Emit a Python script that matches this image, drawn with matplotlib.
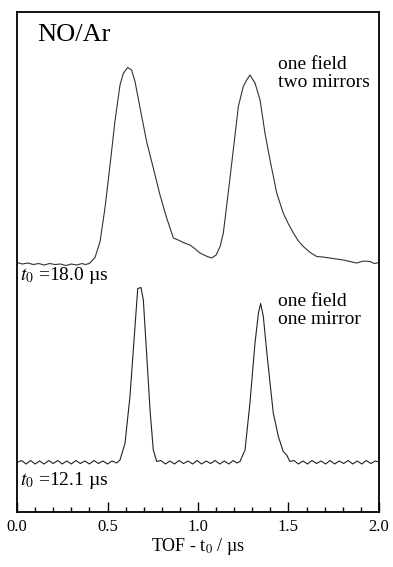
import numpy as np
import matplotlib
matplotlib.use("Agg")
import matplotlib.pyplot as plt
from matplotlib.ticker import MultipleLocator

plt.rcParams['font.family'] = ['Liberation Serif', 'DejaVu Serif']
plt.rcParams['mathtext.fontset'] = 'stix'

# upper trace: one field, two mirrors (t0 = 18.0 us)
top_x = [0.000, 0.030, 0.060, 0.090, 0.120, 0.150, 0.180, 0.210, 0.240, 0.270,
         0.300, 0.330, 0.360, 0.376, 0.400, 0.431, 0.459, 0.486, 0.514, 0.541,
         0.569, 0.587, 0.611, 0.633, 0.652, 0.680, 0.716, 0.753, 0.790, 0.827,
         0.864, 0.891, 0.925, 0.956, 0.985, 1.011, 1.045, 1.076, 1.100, 1.122,
         1.140, 1.167, 1.195, 1.223, 1.250, 1.269, 1.287, 1.315, 1.343, 1.370,
         1.398, 1.435, 1.471, 1.500, 1.527, 1.555, 1.582, 1.620, 1.656, 1.690,
         1.729, 1.765, 1.803, 1.840, 1.877, 1.915, 1.950, 1.975, 2.000]
top_y = [4.99, 4.96, 4.98, 4.95, 4.97, 4.94, 4.97, 4.95, 4.96, 4.93,
         4.96, 4.94, 4.97, 4.95, 4.97, 5.09, 5.41, 6.08, 6.94, 7.81,
         8.54, 8.77, 8.89, 8.84, 8.61, 8.08, 7.41, 6.88, 6.34, 5.88,
         5.48, 5.44, 5.38, 5.34, 5.26, 5.18, 5.12, 5.08, 5.14, 5.31,
         5.58, 6.38, 7.24, 8.11, 8.51, 8.64, 8.74, 8.58, 8.24, 7.58,
         7.04, 6.38, 5.98, 5.76, 5.58, 5.42, 5.31, 5.19, 5.11, 5.10,
         5.08, 5.06, 5.04, 5.01, 4.98, 5.02, 5.01, 4.97, 4.99]

# lower trace: one field, one mirror (t0 = 12.1 us)
bot_x = [0.000, 0.025, 0.050, 0.075, 0.100, 0.125, 0.150, 0.175, 0.200, 0.225,
         0.250, 0.275, 0.300, 0.325, 0.350, 0.375, 0.400, 0.425, 0.450, 0.475,
         0.500, 0.525, 0.550, 0.569, 0.597, 0.624, 0.648, 0.667, 0.685, 0.698,
         0.716, 0.735, 0.753, 0.772, 0.795, 0.820, 0.845, 0.870, 0.895, 0.920,
         0.945, 0.970, 0.995, 1.020, 1.045, 1.070, 1.095, 1.120, 1.145, 1.170,
         1.195, 1.215, 1.232, 1.260, 1.287, 1.315, 1.334, 1.346, 1.361, 1.379,
         1.398, 1.416, 1.444, 1.471, 1.490, 1.508, 1.530, 1.555, 1.580, 1.605,
         1.630, 1.655, 1.680, 1.705, 1.730, 1.755, 1.780, 1.805, 1.830, 1.855,
         1.880, 1.905, 1.930, 1.955, 1.980, 2.000]
bot_y = [0.99, 1.03, 0.96, 1.03, 0.96, 1.02, 0.96, 1.03, 0.97, 1.03,
         0.96, 1.02, 0.96, 1.03, 0.97, 1.02, 0.96, 1.03, 0.97, 1.02,
         0.96, 1.02, 0.98, 1.04, 1.38, 2.31, 3.51, 4.47, 4.49, 4.24,
         3.18, 2.04, 1.24, 1.01, 1.03, 0.96, 1.02, 0.96, 1.03, 0.97,
         1.02, 0.96, 1.03, 0.96, 1.02, 0.97, 1.03, 0.96, 1.02, 0.96,
         1.03, 0.98, 1.01, 1.24, 2.18, 3.38, 3.98, 4.17, 3.91, 3.24,
         2.58, 1.98, 1.51, 1.21, 1.14, 1.01, 1.03, 0.96, 1.02, 0.96,
         1.03, 0.97, 1.02, 0.96, 1.03, 0.96, 1.02, 0.97, 1.03, 0.96,
         1.02, 0.96, 1.03, 0.97, 1.02, 1.00]

fig = plt.figure(figsize=(3.93, 5.67), dpi=100)
ax = fig.add_axes([0.0433, 0.097, 0.921, 0.8818])

ax.plot(top_x, top_y, color='#333333', lw=0.8)
ax.plot(bot_x, bot_y, color='#222222', lw=0.8)

ax.set_xlim(0, 2.0)
ax.set_ylim(0, 10)
ax.set_yticks([])
ax.xaxis.set_major_locator(MultipleLocator(0.5))
ax.xaxis.set_minor_locator(MultipleLocator(0.1))
ax.tick_params(axis='x', which='major', direction='in', length=7, width=1,
               labelsize=12, pad=5)
ax.tick_params(axis='x', which='minor', direction='in', length=3.5, width=1)
ax.xaxis.set_major_formatter(matplotlib.ticker.FormatStrFormatter('%.1f'))
for s in ax.spines.values():
    s.set_linewidth(1.3)

ax.set_xlabel(r'TOF - t$_{\mathrm{0}}$ / µs', fontsize=13, labelpad=1)

ax.text(0.109, 9.43, 'NO/Ar', fontsize=19, va='baseline', ha='left')
ax.text(1.442, 8.51, 'one field\ntwo mirrors', fontsize=14, va='baseline',
        ha='left', linespacing=1.05)
ax.text(1.442, 3.76, 'one field\none mirror', fontsize=14, va='baseline',
        ha='left', linespacing=1.05)
ax.text(0.017, 4.64, r'$t_0$ =18.0 µs', fontsize=14, va='baseline', ha='left')
ax.text(0.017, 0.54, r'$t_0$ =12.1 µs', fontsize=14, va='baseline', ha='left')

fig.savefig('out.png', dpi=100)
